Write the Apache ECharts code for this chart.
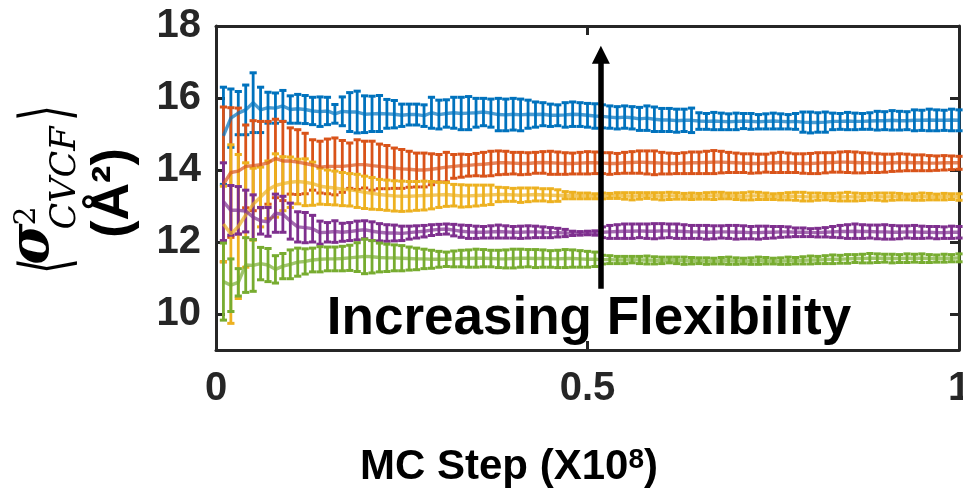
<!DOCTYPE html>
<html><head><meta charset="utf-8">
<script src="https://cdn.jsdelivr.net/npm/echarts@6/dist/echarts.min.js"></script>
<style>html,body{margin:0;padding:0;background:#fff}#c{width:963px;height:490px}</style>
</head><body><div id="c"></div>
<script>
const mcStep = [0.01,0.02,0.03,0.04,0.05,0.06,0.07,0.08,0.09,0.10,
0.11,0.12,0.13,0.14,0.15,0.16,0.17,0.18,0.19,0.20,
0.21,0.22,0.23,0.24,0.25,0.26,0.27,0.28,0.29,0.30,
0.31,0.32,0.33,0.34,0.35,0.36,0.37,0.38,0.39,0.40,
0.41,0.42,0.43,0.44,0.45,0.46,0.47,0.48,0.49,0.50,
0.51,0.52,0.53,0.54,0.55,0.56,0.57,0.58,0.59,0.60,
0.61,0.62,0.63,0.64,0.65,0.66,0.67,0.68,0.69,0.70,
0.71,0.72,0.73,0.74,0.75,0.76,0.77,0.78,0.79,0.80,
0.81,0.82,0.83,0.84,0.85,0.86,0.87,0.88,0.89,0.90,
0.91,0.92,0.93,0.94,0.95,0.96,0.97,0.98,0.99,1.00];
const xTicks = [0, 0.5, 1];
const yTicks = [10, 12, 14, 16, 18];

const blueMean = [14.95,15.44,15.58,15.67,15.87,15.67,15.73,15.72,15.78,15.68,
15.70,15.68,15.64,15.62,15.64,15.56,15.63,15.61,15.61,15.55,
15.56,15.57,15.56,15.55,15.52,15.54,15.54,15.51,15.59,15.54,
15.57,15.59,15.57,15.58,15.59,15.61,15.58,15.54,15.53,15.55,
15.53,15.55,15.54,15.55,15.52,15.52,15.53,15.55,15.54,15.52,
15.50,15.49,15.47,15.45,15.47,15.45,15.42,15.44,15.41,15.39,
15.39,15.37,15.38,15.38,15.36,15.35,15.36,15.35,15.34,15.35,
15.36,15.35,15.34,15.35,15.36,15.35,15.34,15.35,15.33,15.32,
15.32,15.33,15.35,15.35,15.36,15.35,15.35,15.36,15.37,15.37,
15.38,15.37,15.37,15.38,15.38,15.39,15.38,15.38,15.39,15.38];
const blueErr = [1.35,0.81,0.60,0.69,0.83,0.63,0.43,0.42,0.43,0.38,
0.40,0.39,0.38,0.41,0.38,0.26,0.40,0.54,0.58,0.51,
0.49,0.50,0.40,0.38,0.31,0.29,0.29,0.30,0.43,0.40,
0.38,0.43,0.45,0.46,0.40,0.38,0.39,0.45,0.44,0.44,
0.44,0.39,0.35,0.32,0.31,0.29,0.34,0.34,0.33,0.33,
0.34,0.32,0.31,0.31,0.31,0.31,0.32,0.34,0.34,0.32,
0.32,0.32,0.31,0.34,0.23,0.22,0.24,0.23,0.22,0.23,
0.21,0.22,0.20,0.21,0.22,0.21,0.20,0.22,0.28,0.29,
0.27,0.28,0.23,0.22,0.24,0.23,0.22,0.23,0.26,0.25,
0.27,0.26,0.25,0.29,0.28,0.30,0.29,0.28,0.30,0.29];

const orangeMean = [13.60,13.93,13.97,14.10,14.12,14.15,14.20,14.32,14.25,14.25,
14.22,14.18,14.14,14.08,14.10,14.10,14.10,14.12,14.15,14.15,
14.12,14.10,14.08,14.05,14.03,14.02,14.00,14.00,14.02,14.05,
14.08,14.10,14.12,14.13,14.15,14.16,14.18,14.20,14.20,14.19,
14.18,14.18,14.20,14.21,14.20,14.19,14.18,14.18,14.19,14.20,
14.20,14.19,14.18,14.18,14.20,14.21,14.22,14.21,14.20,14.19,
14.18,14.18,14.19,14.20,14.20,14.21,14.22,14.22,14.21,14.20,
14.19,14.18,14.18,14.19,14.20,14.21,14.20,14.19,14.18,14.18,
14.19,14.20,14.21,14.22,14.22,14.21,14.20,14.20,14.19,14.19,
14.20,14.21,14.21,14.20,14.20,14.19,14.19,14.20,14.20,14.20];
const orangeErr = [2.15,1.80,1.75,1.15,1.25,1.20,1.15,1.09,1.10,0.92,
0.90,0.84,0.70,0.72,0.76,0.79,0.72,0.63,0.69,0.65,
0.68,0.62,0.60,0.56,0.54,0.50,0.47,0.47,0.43,0.38,
0.41,0.33,0.32,0.30,0.31,0.33,0.34,0.33,0.32,0.30,
0.31,0.30,0.29,0.30,0.32,0.31,0.30,0.29,0.30,0.31,
0.30,0.29,0.30,0.28,0.29,0.30,0.31,0.32,0.33,0.30,
0.29,0.28,0.29,0.30,0.30,0.31,0.32,0.30,0.28,0.27,
0.26,0.27,0.26,0.25,0.27,0.28,0.27,0.26,0.27,0.28,
0.29,0.28,0.27,0.28,0.29,0.29,0.28,0.27,0.26,0.25,
0.24,0.24,0.23,0.22,0.22,0.21,0.20,0.20,0.19,0.18];

const yellowMean = [12.50,12.22,12.43,12.75,13.05,13.25,13.45,13.57,13.62,13.66,
13.68,13.66,13.62,13.55,13.52,13.50,13.47,13.45,13.42,13.38,
13.35,13.32,13.30,13.28,13.27,13.27,13.28,13.29,13.30,13.31,
13.32,13.30,13.28,13.28,13.29,13.30,13.31,13.32,13.32,13.31,
13.30,13.31,13.32,13.31,13.30,13.29,13.30,13.29,13.28,13.28,
13.27,13.28,13.28,13.29,13.28,13.27,13.28,13.29,13.28,13.27,
13.28,13.28,13.27,13.27,13.27,13.28,13.28,13.29,13.28,13.27,
13.27,13.28,13.28,13.27,13.26,13.26,13.27,13.27,13.26,13.25,
13.26,13.26,13.25,13.25,13.26,13.25,13.25,13.26,13.26,13.25,
13.26,13.26,13.25,13.25,13.26,13.26,13.25,13.26,13.26,13.25];
const yellowErr = [1.05,2.48,2.00,1.45,1.00,0.83,0.80,0.88,0.75,0.70,
0.62,0.65,0.60,0.50,0.48,0.47,0.46,0.45,0.46,0.45,
0.44,0.42,0.42,0.42,0.42,0.41,0.40,0.40,0.38,0.35,
0.33,0.30,0.31,0.30,0.29,0.28,0.27,0.20,0.19,0.18,
0.20,0.19,0.18,0.17,0.18,0.16,0.10,0.09,0.08,0.08,
0.07,0.08,0.07,0.08,0.09,0.10,0.09,0.08,0.09,0.10,
0.10,0.09,0.08,0.09,0.08,0.09,0.10,0.09,0.08,0.09,
0.10,0.11,0.10,0.09,0.08,0.09,0.10,0.11,0.12,0.11,
0.10,0.09,0.10,0.11,0.12,0.11,0.10,0.09,0.10,0.11,
0.10,0.09,0.08,0.09,0.10,0.09,0.08,0.09,0.08,0.09];

const purpleMean = [13.12,12.88,12.88,12.86,12.69,12.59,12.56,12.80,12.77,12.58,
12.42,12.40,12.37,12.26,12.27,12.29,12.27,12.29,12.32,12.34,
12.30,12.27,12.25,12.25,12.24,12.26,12.28,12.30,12.33,12.35,
12.36,12.33,12.30,12.28,12.27,12.27,12.28,12.29,12.28,12.27,
12.27,12.28,12.28,12.27,12.26,12.26,12.25,12.24,12.24,12.25,
12.25,12.27,12.28,12.29,12.30,12.30,12.31,12.30,12.30,12.31,
12.31,12.30,12.29,12.28,12.28,12.27,12.27,12.28,12.28,12.27,
12.27,12.26,12.26,12.27,12.27,12.28,12.28,12.27,12.27,12.26,
12.26,12.27,12.28,12.29,12.29,12.30,12.29,12.29,12.28,12.28,
12.27,12.27,12.28,12.28,12.27,12.27,12.26,12.26,12.27,12.27];
const purpleErr = [1.08,0.69,0.66,0.58,0.62,0.37,0.40,0.53,0.50,0.50,
0.42,0.42,0.37,0.32,0.27,0.30,0.25,0.25,0.26,0.25,
0.26,0.24,0.23,0.22,0.20,0.18,0.17,0.16,0.15,0.14,
0.14,0.16,0.17,0.18,0.17,0.16,0.17,0.18,0.17,0.16,
0.17,0.17,0.16,0.15,0.14,0.12,0.10,0.06,0.05,0.05,
0.06,0.15,0.18,0.19,0.20,0.20,0.19,0.20,0.21,0.20,
0.19,0.20,0.19,0.18,0.18,0.19,0.18,0.17,0.18,0.19,
0.18,0.17,0.18,0.17,0.16,0.15,0.14,0.12,0.12,0.11,
0.12,0.13,0.15,0.17,0.19,0.20,0.19,0.18,0.19,0.20,
0.19,0.18,0.17,0.18,0.17,0.16,0.17,0.16,0.17,0.16];

const greenMean = [10.90,10.80,10.88,11.36,11.35,11.40,11.36,11.24,11.33,11.38,
11.44,11.46,11.50,11.52,11.53,11.53,11.54,11.56,11.58,11.60,
11.59,11.57,11.56,11.56,11.55,11.54,11.53,11.53,11.52,11.52,
11.52,11.53,11.54,11.54,11.55,11.55,11.54,11.53,11.53,11.54,
11.55,11.55,11.54,11.54,11.53,11.53,11.54,11.54,11.53,11.52,
11.52,11.51,11.51,11.50,11.50,11.51,11.50,11.50,11.49,11.49,
11.50,11.49,11.48,11.48,11.48,11.47,11.47,11.48,11.48,11.47,
11.47,11.47,11.48,11.48,11.47,11.47,11.48,11.48,11.49,11.50,
11.50,11.51,11.52,11.52,11.53,11.54,11.54,11.55,11.55,11.55,
11.54,11.54,11.55,11.55,11.55,11.54,11.54,11.55,11.55,11.56];
const greenErr = [1.07,0.73,0.38,0.76,0.72,0.45,0.46,0.38,0.35,0.40,
0.39,0.35,0.33,0.35,0.33,0.33,0.34,0.35,0.40,0.48,
0.45,0.40,0.38,0.36,0.35,0.32,0.30,0.27,0.25,0.22,
0.20,0.22,0.23,0.24,0.25,0.24,0.23,0.24,0.25,0.26,
0.25,0.24,0.25,0.24,0.23,0.24,0.25,0.24,0.23,0.22,
0.20,0.12,0.11,0.10,0.10,0.09,0.10,0.11,0.10,0.09,
0.08,0.09,0.10,0.09,0.08,0.09,0.08,0.09,0.10,0.09,
0.08,0.09,0.10,0.09,0.08,0.09,0.10,0.09,0.10,0.11,
0.10,0.11,0.12,0.11,0.12,0.11,0.12,0.13,0.12,0.11,
0.12,0.11,0.12,0.11,0.12,0.11,0.10,0.11,0.10,0.11];

const seriesNames = ['s1','s2','s3','s4','s5'];
const seriesColors = ['#0072BD','#D95319','#EDB120','#7E2F8E','#77AC30'];
const allMeans = [blueMean, orangeMean, yellowMean, purpleMean, greenMean];
const allErrs = [blueErr, orangeErr, yellowErr, purpleErr, greenErr];

const arrowX = 0.518, arrowFrom = 10.7, arrowTo = 17.2;
const noteText = 'Increasing Flexibility';
const AX = '#262626';
const SANS = 'Liberation Sans, Arial, Helvetica, sans-serif';
const SERIF = 'DejaVu Serif, Liberation Serif, serif';

function errorBars(mean, err, color) {
  return {
    type: 'custom', silent: true, animation: false,
    data: mcStep.map((x, i) => [x, mean[i] - err[i], mean[i] + err[i]]),
    encode: { x: 0, y: [1, 2] },
    renderItem: function (params, api) {
      const x = api.value(0);
      const lo = api.coord([x, api.value(1)]);
      const hi = api.coord([x, api.value(2)]);
      const hw = 3.6;
      return {
        type: 'group',
        children: [
          { type: 'line', shape: { x1: lo[0], y1: lo[1], x2: hi[0], y2: hi[1] }, style: { stroke: color, lineWidth: 2.8 } },
          { type: 'line', shape: { x1: lo[0] - hw, y1: lo[1], x2: lo[0] + hw, y2: lo[1] }, style: { stroke: color, lineWidth: 3 } },
          { type: 'line', shape: { x1: hi[0] - hw, y1: hi[1], x2: hi[0] + hw, y2: hi[1] }, style: { stroke: color, lineWidth: 3 } }
        ]
      };
    }
  };
}

const series = [];
allMeans.forEach((mean, k) => {
  series.push(errorBars(mean, allErrs[k], seriesColors[k]));
  series.push({
    type: 'line', name: seriesNames[k], silent: true, animation: false,
    data: mcStep.map((x, i) => [x, mean[i]]),
    showSymbol: false, symbol: 'none',
    lineStyle: { color: seriesColors[k], width: 3.4, opacity: 0.7 }
  });
});
series[series.length - 1].markLine = {
  silent: true, animation: false,
  symbol: ['none', 'triangle'], symbolSize: [18, 18],
  itemStyle: { color: '#000' },
  lineStyle: { color: '#000', width: 5.5, type: 'solid', opacity: 1 },
  label: { show: false },
  data: [[{ coord: [arrowX, arrowFrom] }, { coord: [arrowX, arrowTo] }]]
};

function xAxisCfg(pos, showLabel) {
  return {
    type: 'value', position: pos, min: 0, max: 1, interval: 0.5,
    axisLine: { show: true, onZero: false, lineStyle: { color: AX, width: 3 } },
    axisTick: { show: true, inside: true, length: 9, lineStyle: { color: AX, width: 3 } },
    axisLabel: { show: showLabel, fontSize: 40, fontWeight: 'bold', color: AX, fontFamily: SANS, margin: 19,
      customValues: xTicks, hideOverlap: false },
    splitLine: { show: false }
  };
}
function yAxisCfg(pos, showLabel) {
  return {
    type: 'value', position: pos, min: 9, max: 18,
    axisLine: { show: true, onZero: false, lineStyle: { color: AX, width: 3 } },
    axisTick: { show: true, inside: true, length: 9, lineStyle: { color: AX, width: 3 }, customValues: yTicks },
    axisLabel: { show: showLabel, fontSize: 40, fontWeight: 'bold', color: AX, fontFamily: SANS, margin: 15,
      customValues: yTicks },
    splitLine: { show: false }
  };
}

const option = {
  backgroundColor: '#fff',
  animation: false,
  grid: { left: 216, right: 4, top: 26, bottom: 140, containLabel: false, outerBoundsMode: 'none' },
  xAxis: [xAxisCfg('bottom', true), xAxisCfg('top', false)],
  yAxis: [yAxisCfg('left', true), yAxisCfg('right', false)],
  series: series,
  graphic: [
    { type: 'text', x: 589, y: 319, z: 100,
      style: { text: noteText, fontSize: 53, fontWeight: 'bold', fontFamily: SANS, fill: '#000',
        textAlign: 'center', textVerticalAlign: 'middle' } },
    { type: 'text', x: 360, y: 467, z: 100,
      style: { text: 'MC Step (X10{sup|8})', fontSize: 42, fontWeight: 'bold', fontFamily: SANS, fill: '#000',
        textAlign: 'left', textVerticalAlign: 'middle',
        rich: { sup: { fontSize: 28, fontWeight: 'bold', fontFamily: SANS, fill: '#000', verticalAlign: 'top' } } } },
    { type: 'group', x: 0, y: 0, rotation: Math.PI / 2, z: 100,
      children: [
        { type: 'text', x: -266, y: 50, scaleX: 0.6, style: { text: '⟨', fontSize: 68, fontFamily: 'DejaVu Sans', fill: '#000', textAlign: 'center', textVerticalAlign: 'middle' } },
        { type: 'text', x: -244, y: 33, style: { text: 'σ', fontSize: 56, fontWeight: 'bold', fontStyle: 'italic', fontFamily: SERIF, fill: '#000', textAlign: 'center', textVerticalAlign: 'middle' } },
        { type: 'text', x: -216, y: 27, style: { text: '2', fontSize: 30, fontFamily: SERIF, fill: '#000', textAlign: 'center', textVerticalAlign: 'middle' } },
        { type: 'text', x: -178, y: 66, style: { text: 'CVCF', fontSize: 35, fontStyle: 'italic', fontFamily: SERIF, fill: '#000', textAlign: 'center', textVerticalAlign: 'middle' } },
        { type: 'text', x: -113, y: 50, scaleX: 0.6, style: { text: '⟩', fontSize: 68, fontFamily: 'DejaVu Sans', fill: '#000', textAlign: 'center', textVerticalAlign: 'middle' } },
        { type: 'text', x: -193, y: 114, style: { text: '(Å²)', fontSize: 52, fontWeight: 'bold', fontFamily: SANS, fill: '#000', textAlign: 'center', textVerticalAlign: 'middle' } }
      ] }
  ]
};

const chart = echarts.init(document.getElementById('c'));
chart.setOption(option);
</script>
</body></html>
